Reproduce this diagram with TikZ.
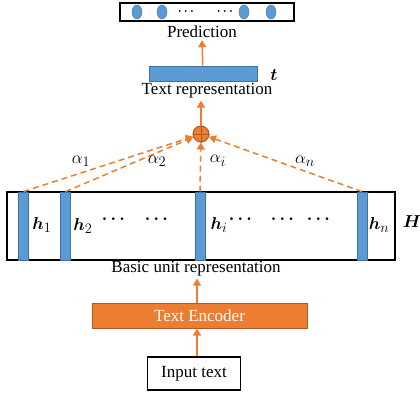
\documentclass[tikz,border=0pt]{standalone}
\usepackage{amsmath,amssymb}
\usepackage{fontspec}
\setmainfont{Liberation Serif}
\usepackage{tikz}
\usetikzlibrary{arrows.meta,shapes.geometric}
\definecolor{unitblue}{HTML}{5B9BD5}
\definecolor{unitedge}{HTML}{41719C}
\definecolor{encorange}{HTML}{ED7D31}
\definecolor{encedge}{HTML}{AE5A21}

\begin{document}
\begin{tikzpicture}[x=1pt, y=-1pt,
  lbl/.style={inner sep=0pt, font=\fontsize{17}{19}\selectfont},
  mlbl/.style={inner sep=0pt, font=\fontsize{19}{21}\selectfont},
  frame/.style={draw=black, line width=1.2pt, inner sep=0pt},
  bar/.style={draw=unitedge, line width=0.8pt, fill=unitblue, inner sep=0pt, minimum width=10pt, minimum height=68pt},
  dot/.style={ellipse, draw=unitedge, fill=unitblue, inner sep=0pt, minimum width=10pt, minimum height=14pt},
  arr/.style={draw=encorange, line width=1.5pt, -{Triangle[length=7pt, width=8pt]}},
  attn/.style={draw=encorange, line width=1.5pt, dash pattern=on 6pt off 4pt, -{Triangle[length=7pt, width=8pt]}}]
  \useasboundingbox (0,0) rectangle (420,394);
  % prediction
  \node[frame, minimum width=174pt, minimum height=18pt] (pred) at (207,12) {};
  \node[dot] (p1) at (137,12) {};
  \node[dot] (p2) at (162,12) {};
  \node[dot] (p3) at (244,12) {};
  \node[dot] (p4) at (271,12) {};
  \node[inner sep=0pt, font=\fontsize{12}{12}\selectfont] (pd1) at (187,12) {$\boldsymbol{\cdots}$};
  \node[inner sep=0pt, font=\fontsize{12}{12}\selectfont] (pd2) at (226,12) {$\boldsymbol{\cdots}$};
  \node[lbl] (predlbl) at (202,32) {Prediction};
  % text representation
  \node[bar, minimum width=108pt, minimum height=15pt] (trep) at (203,73.5) {};
  \node[mlbl] (tvec) at (274,75) {$\boldsymbol{t}$};
  \node[lbl] (treplbl) at (207,91) {Text representation};
  \node[circle, draw=encedge, fill=encorange, line width=1pt, minimum size=16pt, inner sep=0pt] (sum) at (201,134) {};
  \draw[encedge, line width=1pt] (sum.north) -- (sum.south) (sum.west) -- (sum.east);
  % basic units
  \node[frame, minimum width=388pt, minimum height=68pt] (hbox) at (201,226) {};
  \node[bar] (b1) at (23.5,226) {};
  \node[bar] (b2) at (65.5,226) {};
  \node[bar] (bi) at (200,226) {};
  \node[bar] (bn) at (362,226) {};
  \node[mlbl] (h1) at (42,225) {$\boldsymbol{h}_1$};
  \node[mlbl] (h2) at (83,226) {$\boldsymbol{h}_2$};
  \node[mlbl] (hi) at (219,225) {$\boldsymbol{h}_i$};
  \node[mlbl] (hn) at (379,225) {$\boldsymbol{h}_n$};
  \node[mlbl] (hH) at (412,222) {$\boldsymbol{H}$};
  \foreach \x [count=\k] in {115,158,242,284,320}
    \node[mlbl] (hd\k) at (\x,219) {$\boldsymbol{\cdots}$};
  \node[lbl] (hlbl) at (196,269) {Basic unit representation};
  % attention
  \draw[attn] (b1.north) -- (sum);
  \draw[attn] (b2.north) -- (sum);
  \draw[attn] (bi.north) -- (sum);
  \draw[attn] (bn.north) -- (sum);
  \node[mlbl] (a1) at (81,161) {$\alpha_1$};
  \node[mlbl] (a2) at (157,161) {$\alpha_2$};
  \node[mlbl] (ai) at (218,161) {$\alpha_i$};
  \node[mlbl] (an) at (305,161) {$\alpha_n$};
  % encoder and input
  \node[draw=encedge, fill=encorange, line width=1pt, minimum width=215pt, minimum height=25pt, inner sep=0pt,
        font=\fontsize{17}{19}\selectfont, text=white] (enc) at (199.5,315.5) {Text Encoder};
  \node[frame, minimum width=93pt, minimum height=33pt, font=\fontsize{17}{19}\selectfont] (inp) at (194,373.5) {Input text};
  \draw[arr] (inp.north -| 197,0) -- (enc.south -| 197,0);
  \draw[arr] (enc.north -| 197,0) -- ([yshift=-2pt]hlbl.south -| 197,0);
  \draw[arr] (sum) -- ([yshift=-2pt]treplbl.south -| sum);
  \draw[arr] (trep) -- ([yshift=-2pt]predlbl.south);
\end{tikzpicture}
\end{document}
